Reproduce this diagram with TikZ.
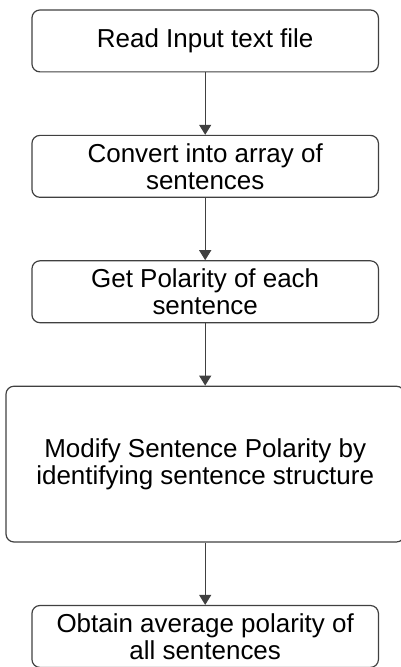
\documentclass[tikz,border=0pt]{standalone}
\usepackage{fontspec}
\setmainfont{Liberation Sans}
\usetikzlibrary{positioning,arrows.meta}

\begin{document}
\begin{tikzpicture}[
    stepbox/.style={draw=black!75, line width=0.6pt, rounded corners=4pt,
      align=center, minimum width=173.5pt, minimum height=31pt, inner sep=2pt,
      font=\fontsize{13}{13.5}\selectfont},
    flow/.style={draw=black!75, line width=0.6pt,
      -{Triangle[width=6pt,length=5pt]}},
    node distance=31.2pt
  ]
  \useasboundingbox (0,0) rectangle (200.4pt,-334pt);

  \node[stepbox] (read) at (102.75pt,-20.5pt) {Read Input text file};
  \node[stepbox, below=of read] (convert) {Convert into array of\\sentences};
  \node[stepbox, below=of convert] (polarity) {Get Polarity of each\\sentence};
  \node[stepbox, below=of polarity, minimum width=199.5pt, minimum height=78pt]
    (modify) {Modify Sentence Polarity by\\identifying sentence structure};
  \node[stepbox, below=of modify] (average) {Obtain average polarity of\\all sentences};

  \foreach \a/\b in {read/convert, convert/polarity, polarity/modify, modify/average}
    \draw[flow] (\a) -- (\b);
\end{tikzpicture}
\end{document}
